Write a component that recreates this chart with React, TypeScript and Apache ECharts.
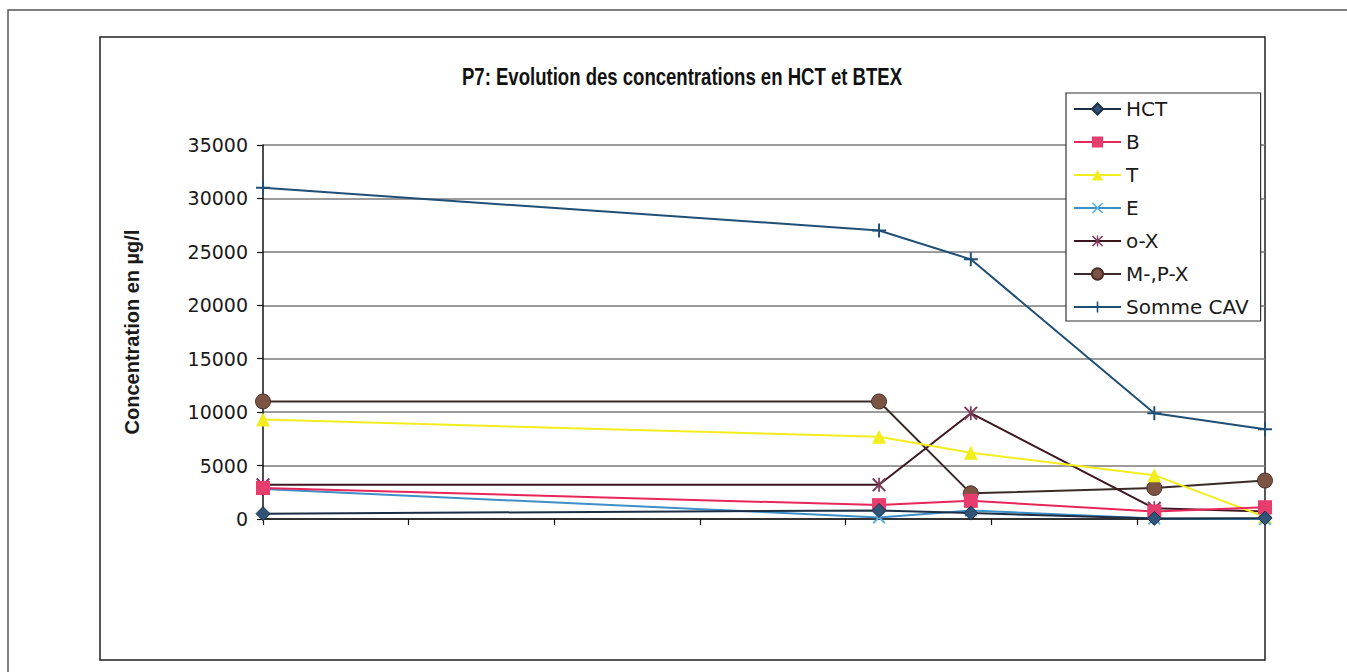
import React, { useEffect, useRef } from "react";
import * as echarts from "echarts";

// x positions in months since the first sampling
const sampleMonths = [0, 4.23, 4.86, 6.12, 6.88];
const seriesNames = ["HCT", "B", "T", "E", "o-X", "M-,P-X", "Somme CAV"];
const hct = [500, 800, 550, 50, 80];
const benz = [2900, 1300, 1700, 700, 1100];
const tol = [9300, 7700, 6200, 4100, 200];
const ethyl = [2800, 150, 800, 50, 0];
const oXyl = [3200, 3200, 9900, 1000, 700];
const mpXyl = [11000, 11000, 2400, 2900, 3600];
const sommeCav = [31000, 27000, 24300, 9900, 8400];

const title = "P7: Evolution des concentrations en HCT et BTEX";
const yName = "Concentration en µg/l";

const FONT = "Liberation Sans, Arial, sans-serif";
const WIDE = "DejaVu Sans, Liberation Sans, sans-serif";

const PLUS = "path://M4.3,0H5.7V10H4.3Z M0,4.3H10V5.7H0Z";
const CROSS = "path://M0,1L1,0L10,9L9,10Z M9,0L10,1L1,10L0,9Z";
const STAR = "path://M0,1L1,0L10,9L9,10Z M9,0L10,1L1,10L0,9Z M4.4,0H5.6V10H4.4Z";

export default function App() {
  const ref = useRef<HTMLDivElement>(null);
  useEffect(() => {
    const chart = echarts.init(ref.current!, null, { renderer: "svg" });
    const mk = (name: string, vals: number[], lineColor: string, markColor: string, symbol: string, size: number, border?: string) => ({
      name,
      type: "line",
      data: sampleMonths.map((m, i) => [m, vals[i]]),
      symbol,
      symbolSize: size,
      showAllSymbol: true,
      lineStyle: { color: lineColor, width: 2 },
      itemStyle: { color: markColor, borderColor: border || markColor, borderWidth: border ? 1 : 0, opacity: 1 },
      emphasis: { disabled: true },
    });
    chart.setOption({
      animation: false,
      backgroundColor: "#ffffff",
      grid: { left: 263, right: 82, top: 145, bottom: 153, containLabel: false },
      xAxis: {
        type: "value",
        min: 0,
        max: 6.88,
        interval: 1,
        axisLine: { show: true, lineStyle: { color: "#111", width: 1.5 } },
        axisTick: { show: true, length: 6, lineStyle: { color: "#111", width: 1.2 } },
        axisLabel: { show: false },
        splitLine: { show: false },
      },
      yAxis: {
        type: "value",
        min: 0,
        max: 35000,
        interval: 5000,
        axisLine: { show: true, lineStyle: { color: "#111", width: 1.5 } },
        axisTick: { show: true, length: 6, lineStyle: { color: "#111", width: 1.2 } },
        axisLabel: { fontFamily: WIDE, fontSize: 19, color: "#1a1a1a", margin: 15, formatter: (v: number) => String(v) },
        splitLine: { show: true, lineStyle: { color: "#7a7a7a", width: 1.5 } },
      },
      legend: {
        orient: "vertical",
        left: 1066,
        top: 93,
        data: seriesNames,
        itemWidth: 47,
        itemHeight: 14,
        itemGap: 13,
        padding: [6, 12, 4, 7],
        backgroundColor: "#ffffff",
        borderColor: "#333",
        borderWidth: 1.2,
        borderRadius: 0,
        textStyle: { fontFamily: WIDE, fontSize: 20, color: "#1a1a1a", padding: [0, 0, 0, 0] },
        z: 10,
      },
      graphic: [
        { type: "rect", silent: true, z: 0, shape: { x: 8, y: 10, width: 1400, height: 700 }, style: { fill: "none", stroke: "#555", lineWidth: 1.5 } },
        { type: "rect", silent: true, z: 0, shape: { x: 100, y: 37, width: 1165, height: 623 }, style: { fill: "none", stroke: "#222", lineWidth: 1.5 } },
        {
          type: "text",
          silent: true,
          x: 682,
          y: 77,
          scaleX: 0.79,
          style: { text: title, fontFamily: FONT, fontSize: 23.5, fontWeight: "bold", fill: "#111", align: "center", verticalAlign: "middle" },
        },
        {
          type: "text",
          silent: true,
          x: 132,
          y: 332,
          rotation: Math.PI / 2,
          style: { text: yName, fontFamily: FONT, fontSize: 20, fontWeight: "bold", fill: "#1a1a1a", align: "center", verticalAlign: "middle" },
        },
      ],
      series: [
        mk("Somme CAV", sommeCav, "#1f4f75", "#1f4f75", PLUS, 14),
        mk("M-,P-X", mpXyl, "#3a2a28", "#7b5444", "circle", 15, "#4a3028"),
        mk("o-X", oXyl, "#3e1620", "#7b3a5a", STAR, 14),
        mk("T", tol, "#f2ee1e", "#f2ee1e", "triangle", 14),
        mk("E", ethyl, "#3d8fc8", "#5ab0e6", CROSS, 13),
        mk("B", benz, "#e8265a", "#e63c6e", "rect", 14),
        mk("HCT", hct, "#1c2f45", "#2f5478", "diamond", 14, "#1c2f45"),
      ],
    });
    return () => chart.dispose();
  }, []);
  return <div ref={ref} style={{ position: "absolute", left: 0, top: 0, width: 1347, height: 672 }} />;
}
